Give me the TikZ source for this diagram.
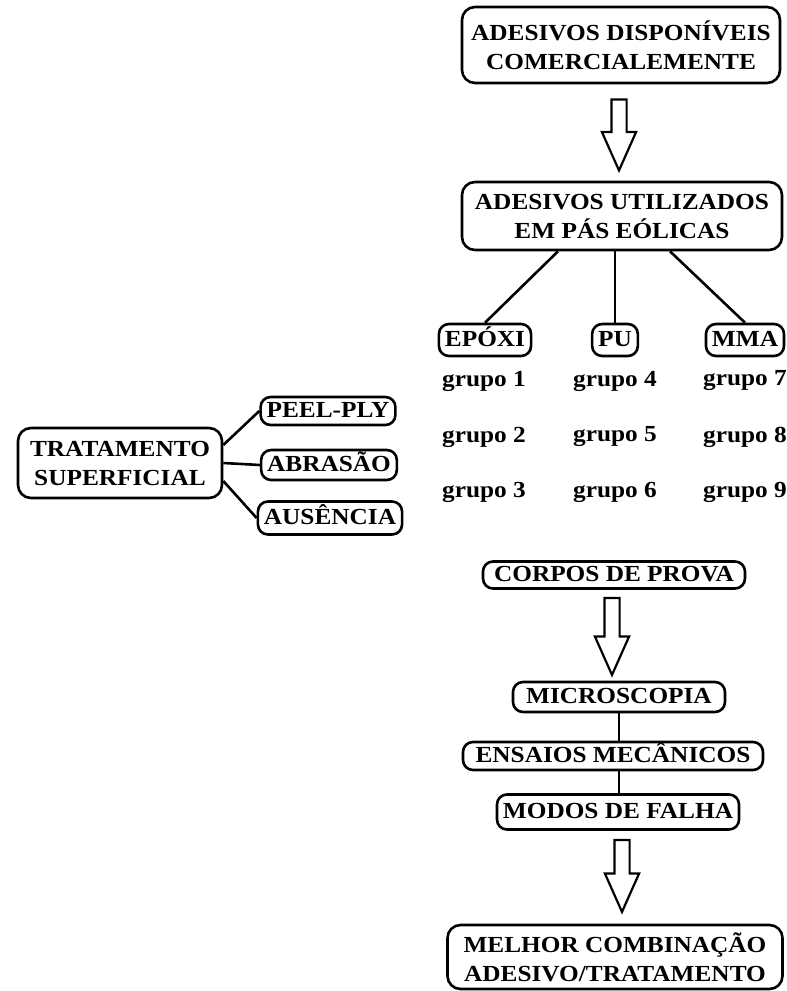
\documentclass[tikz,border=0pt]{standalone}
\usepackage{fontspec}
\setmainfont[FakeStretch=1.1]{Liberation Serif}
\usetikzlibrary{calc,shapes.arrows}
\tikzstyle{caixa}  = [draw, line width=2.6pt, rounded corners=10pt, inner xsep=6pt, inner ysep=3pt, text height=16pt, text depth=3pt, minimum height=32pt, font=\fontsize{23}{29}\selectfont\bfseries]
\tikzstyle{caixa2} = [draw, line width=2.6pt, rounded corners=13pt, inner xsep=6pt, align=center, font=\fontsize{23}{29}\selectfont\bfseries]
\tikzstyle{grupo}  = [font=\fontsize{23}{29}\selectfont\bfseries]
\tikzstyle{linha}  = [line width=2.6pt]
\tikzstyle{seta}   = [draw, single arrow, shape border rotate=270, anchor=tail, line width=2.2pt, inner sep=6.5pt, minimum width=32pt, single arrow head extend=9.5pt, single arrow tip angle=48]

\begin{document}
\begin{tikzpicture}[x=1pt,y=1pt]
		\useasboundingbox (0,0) rectangle (787,-991);

		\node[caixa2, minimum width=318pt, minimum height=76pt] (disp) at (621,-45) {ADESIVOS DISPONÍVEIS\\COMERCIALEMENTE};
		\node[caixa2, minimum width=320pt, minimum height=68pt] (util) at (622,-216) {ADESIVOS UTILIZADOS\\EM PÁS EÓLICAS};

		\node[caixa] (epoxi) at (485,-340) {EPÓXI};
		\node[caixa] (pu) at (615,-340) {PU};
		\node[caixa] (mma) at (745,-340) {MMA};

		\node[grupo] (g1) at (484,-381) {grupo 1};
		\node[grupo] (g2) at (484,-437) {grupo 2};
		\node[grupo] (g3) at (484,-492) {grupo 3};
		\node[grupo] (g4) at (615,-381) {grupo 4};
		\node[grupo] (g5) at (615,-437) {grupo 5};
		\node[grupo] (g6) at (615,-492) {grupo 6};
		\node[grupo] (g7) at (745,-381) {grupo 7};
		\node[grupo] (g8) at (745,-437) {grupo 8};
		\node[grupo] (g9) at (745,-492) {grupo 9};

		\node[caixa2, minimum width=204pt, minimum height=70pt] (trat) at (120,-463) {TRATAMENTO\\SUPERFICIAL};
		\node[caixa, minimum height=28pt] (peel) at (328,-411) {PEEL-PLY};
		\node[caixa, minimum height=30pt] (abra) at (329,-465) {ABRASÃO};
		\node[caixa, minimum height=33pt] (ause) at (330,-518) {AUSÊNCIA};

		\node[caixa, minimum width=262pt, minimum height=27pt] (corpos) at (614,-575) {CORPOS DE PROVA};
		\node[caixa, minimum width=212pt, minimum height=30pt] (micro) at (619,-697) {MICROSCOPIA};
		\node[caixa, minimum width=300pt, minimum height=28pt] (ensaios) at (613,-756) {ENSAIOS MECÂNICOS};
		\node[caixa, minimum height=35pt] (modos) at (618,-812) {MODOS DE FALHA};
		\node[caixa2, minimum width=335pt, minimum height=64pt] (melhor) at (615,-957) {MELHOR COMBINAÇÃO\\ADESIVO/TRATAMENTO};

		% setas ocas
		\node[seta, minimum height=71pt] (s1) at ([xshift=-2pt,yshift=-14pt]disp.south) {};
		\node[seta, minimum height=77pt] (s2) at ([xshift=-2pt,yshift=-7pt]corpos.south) {};
		\node[seta, minimum height=72pt] (s3) at ([xshift=4pt,yshift=-8pt]modos.south) {};

		\draw[linha] ([xshift=-64pt]util.south) -- (epoxi.north);
		\draw[linha] (util.south -| pu.north) -- (pu.north);
		\draw[linha] ([xshift=48pt]util.south) -- (mma.north);

		\draw[linha] ([yshift=18pt]trat.east) -- (peel.west);
		\draw[linha] (trat.east) -- (abra.west);
		\draw[linha] ([yshift=-18pt]trat.east) -- (ause.west);

		\draw[linha] (micro.south) -- (ensaios.north -| micro.south);
		\draw[linha] (ensaios.south -| micro.south) -- (modos.north -| micro.south);
	\end{tikzpicture}
\end{document}
